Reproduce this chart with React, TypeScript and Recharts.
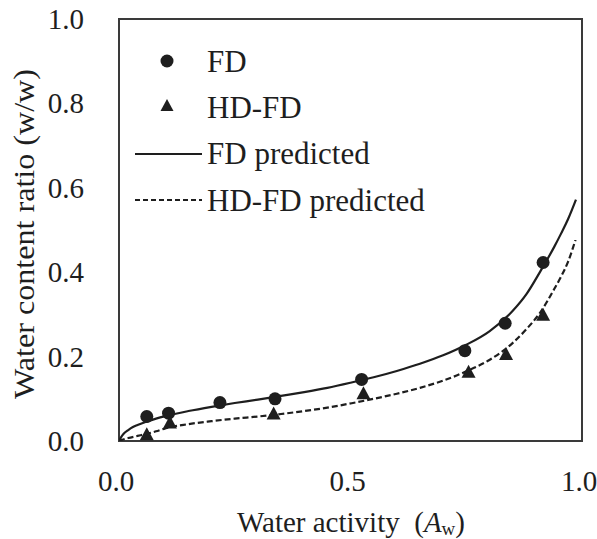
import React from 'react';
import { ComposedChart, XAxis, YAxis, Scatter, Line, ReferenceArea, Legend } from 'recharts';

const fdAw = [0.060, 0.107, 0.218, 0.337, 0.524, 0.747, 0.834, 0.916];
const fdWater = [0.058, 0.066, 0.091, 0.100, 0.146, 0.214, 0.279, 0.423];

const hdAw = [0.060, 0.110, 0.334, 0.528, 0.755, 0.836, 0.916];
const hdWater = [0.014, 0.042, 0.063, 0.111, 0.162, 0.204, 0.297];

const fdPredAw = [0, 0.005, 0.01, 0.02, 0.03, 0.04, 0.06, 0.08, 0.10, 0.15, 0.20, 0.25, 0.30, 0.35, 0.40, 0.45, 0.50, 0.55, 0.60, 0.65, 0.70, 0.75, 0.80, 0.85, 0.88, 0.91, 0.94, 0.955, 0.97, 0.987];
const fdPredWater = [0, 0.010, 0.017, 0.026, 0.033, 0.038, 0.046, 0.053, 0.059, 0.071, 0.081, 0.090, 0.098, 0.107, 0.116, 0.126, 0.138, 0.151, 0.166, 0.183, 0.203, 0.228, 0.260, 0.308, 0.348, 0.402, 0.460, 0.492, 0.526, 0.572];

const hdPredAw = [0, 0.01, 0.02, 0.04, 0.06, 0.08, 0.10, 0.15, 0.20, 0.25, 0.30, 0.35, 0.40, 0.45, 0.50, 0.55, 0.60, 0.65, 0.70, 0.75, 0.80, 0.85, 0.88, 0.91, 0.94, 0.955, 0.97, 0.986];
const hdPredWater = [0, 0.004, 0.007, 0.012, 0.017, 0.023, 0.030, 0.040, 0.047, 0.053, 0.058, 0.064, 0.071, 0.079, 0.089, 0.100, 0.112, 0.126, 0.143, 0.165, 0.192, 0.232, 0.265, 0.305, 0.360, 0.390, 0.425, 0.477];

const xTicks = [0, 0.5, 1.0];
const yTicks = [0, 0.2, 0.4, 0.6, 0.8, 1.0];

const legendLabels = ['FD', 'HD-FD', 'FD predicted', 'HD-FD predicted'];

const zip = (xs: number[], ys: number[]) => xs.map((x, i) => ({ x, y: ys[i] }));
const fdData = zip(fdAw, fdWater);
const hdData = zip(hdAw, hdWater);
const fdPred = zip(fdPredAw, fdPredWater);
const hdPred = zip(hdPredAw, hdPredWater);

const FONT = '"Liberation Serif", "Times New Roman", serif';
const INK = '#1e1e1e';

const CircleShape = (props: any) => {
  const { cx, cy } = props;
  if (cx == null || cy == null) return null;
  return <circle cx={cx} cy={cy} r={6.5} fill={INK} />;
};

const TriangleShape = (props: any) => {
  const { cx, cy } = props;
  if (cx == null || cy == null) return null;
  const h = 13;
  const w = 14;
  const pts = `${cx},${cy - h * 0.6} ${cx - w / 2},${cy + h * 0.4} ${cx + w / 2},${cy + h * 0.4}`;
  return <polygon points={pts} fill={INK} />;
};

const XTick = (props: any) => {
  const { x, payload } = props;
  return (
    <text x={x - 3} y={481} textAnchor="middle" dominantBaseline="central" fontFamily={FONT} fontSize={29} fill={INK}>
      {Number(payload.value).toFixed(1)}
    </text>
  );
};

const YTick = (props: any) => {
  const { y, payload } = props;
  return (
    <text x={84} y={y} textAnchor="end" dominantBaseline="central" fontFamily={FONT} fontSize={29} fill={INK}>
      {Number(payload.value).toFixed(1)}
    </text>
  );
};

const XTitle = () => (
  <text x={351} y={522} textAnchor="middle" dominantBaseline="central" fontFamily={FONT} fontSize={29} fill={INK} style={{ whiteSpace: 'pre' }}>
    <tspan>{'Water activity  ('}</tspan>
    <tspan fontStyle="italic">A</tspan>
    <tspan fontSize={19} dy={6}>w</tspan>
    <tspan dy={-6}>)</tspan>
  </text>
);

const YTitle = () => (
  <text
    x={24}
    y={234}
    transform="rotate(-90 24 234)"
    textAnchor="middle"
    dominantBaseline="central"
    fontFamily={FONT}
    fontSize={29}
    fill={INK}
    textLength={330}
    lengthAdjust="spacingAndGlyphs"
  >
    Water content ratio (w/w)
  </text>
);

const LegendIcon = ({ kind }: { kind: number }) => (
  <svg width={72} height={46} style={{ display: 'block', flex: 'none' }}>
    {kind === 0 && <circle cx={34} cy={23} r={6.5} fill={INK} />}
    {kind === 1 && <polygon points="34,15 27.5,27 40.5,27" fill={INK} />}
    {kind === 2 && <line x1={2} y1={23} x2={69} y2={23} stroke={INK} strokeWidth={2} />}
    {kind === 3 && <line x1={2} y1={23} x2={69} y2={23} stroke={INK} strokeWidth={2} strokeDasharray="5 3" />}
  </svg>
);

const renderLegend = () => (
  <div style={{ fontFamily: FONT, fontSize: 31, color: INK }}>
    {legendLabels.map((label, i) => (
      <div key={label} style={{ display: 'flex', alignItems: 'center', height: 46.3 }}>
        <LegendIcon kind={i} />
        <span style={{ marginLeft: 2, lineHeight: 1, whiteSpace: 'nowrap' }}>{label}</span>
      </div>
    ))}
  </div>
);

export default function App() {
  return (
    <div style={{ position: 'absolute', left: 0, top: 0, width: 597, height: 539, background: '#fff' }}>
      <ComposedChart width={597} height={539} margin={{ top: 19, right: 15, bottom: 0, left: 0 }}>
        <XAxis
          type="number"
          dataKey="x"
          domain={[0, 1]}
          ticks={xTicks}
          tick={<XTick />}
          tickLine={false}
          axisLine={false}
          height={98}
          allowDataOverflow
          label={<XTitle />}
        />
        <YAxis
          type="number"
          dataKey="y"
          domain={[0, 1]}
          ticks={yTicks}
          tick={<YTick />}
          tickLine={false}
          axisLine={false}
          width={119}
          allowDataOverflow
          label={<YTitle />}
        />
        <ReferenceArea x1={0} x2={1} y1={0} y2={1} fill="none" fillOpacity={0} stroke="#3a3a3a" strokeWidth={2} />
        <Line data={fdPred} dataKey="y" type="monotone" stroke={INK} strokeWidth={2.2} dot={false} activeDot={false} isAnimationActive={false} />
        <Line data={hdPred} dataKey="y" type="monotone" stroke={INK} strokeWidth={2.2} strokeDasharray="6 3" dot={false} activeDot={false} isAnimationActive={false} />
        <Scatter data={fdData} dataKey="y" shape={<CircleShape />} isAnimationActive={false} />
        <Scatter data={hdData} dataKey="y" shape={<TriangleShape />} isAnimationActive={false} />
        <Legend
          content={renderLegend}
          layout="vertical"
          align="center"
          verticalAlign="middle"
          wrapperStyle={{ left: 133, top: 38, width: 320, height: 186 }}
        />
      </ComposedChart>
    </div>
  );
}
